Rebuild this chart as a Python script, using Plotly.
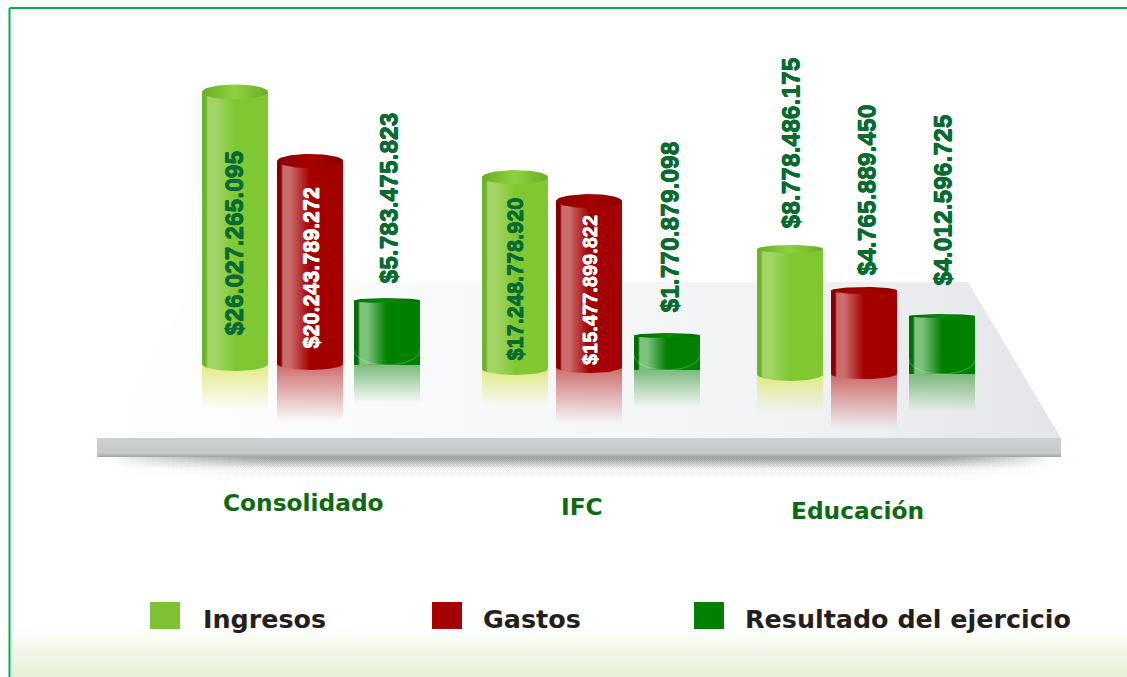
import numpy as np
import plotly.graph_objects as go

# ---------- data ----------
categories = ["Consolidado", "IFC", "Educación"]
series_names = ["Ingresos", "Gastos", "Resultado del ejercicio"]

ingresos_labels = ["$26.027.265.095", "$17.248.778.920", "$8.778.486.175"]
gastos_labels = ["$20.243.789.272", "$15.477.899.822", "$4.765.889.450"]
resultado_labels = ["$5.783.475.823", "$1.770.879.098", "$4.012.596.725"]

# drawn cylinder heights and floors (thousand millions)
ingresos_height = [25.66, 18.1, 11.8]
gastos_height = [19.15, 15.66, 7.88]
resultado_height = [6.08, 3.25, 5.47]
ingresos_floor = [0.38, -0.09, -0.57]
gastos_floor = [0.38, 0.09, -0.57]
resultado_floor = [0.28, -0.19, -0.57]

# ---------- styling ----------
W, H = 1127, 677
PX_X = 277.5     # pixels per category
PX_Y = 10.6      # pixels per unit
X0, Y0 = 311, 368
BAR_W = 66 / PX_X
BAR_CENTER_PX = [[235, 515, 790], [310, 589, 864], [387, 667, 942]]

STYLE = [
    dict(base="#7fc832", edge="#6cb32c", hi="#a3d566", cap=["#67ad26", "#8fd13f"], refl="223,232,120", refl_len=[39, 32, 32]),
    dict(base="#a50000", edge="#870000", hi="#cc6c6c", cap=["#8a0000", "#a50000"], refl="200,90,90", refl_len=[52, 50, 50]),
    dict(base="#008000", edge="#006f00", hi="#7cc27c", cap=["#006c00", "#0a8a0a"], refl="110,180,110", refl_len=[38, 37, 38]),
]
RY_TOP = [[7.5, 7, 4], [7, 7, 3.5], [2.5, 2.5, 2]]
RY_BOT = [[7, 6, 7], [6, 6, 5], [0, 0, 0]]
LIFT = [[26, 6, 143], [13, 0, 96], [79, 55, 86]]
XSHIFT = [[-1, 0, 1], [2, 1, 3], [2, 3, 1]]
LABEL_SIZE = [[24.6, 21.7, 24.6], [21.5, 20, 24.6], [24.6, 24.6, 24.6]]
LABEL_COLOR = [["#0a6b32"] * 3, ["#ffffff", "#ffffff", "#0a6b32"], ["#0a6b32"] * 3]

heights = [ingresos_height, gastos_height, resultado_height]
floors = [ingresos_floor, gastos_floor, resultado_floor]
labels = [ingresos_labels, gastos_labels, resultado_labels]

fig = go.Figure()


def decor(xs, ys, kind=None, stops=None, color=None):
    """Background furniture, in pixel coordinates on the lower axes."""
    t = dict(x=xs, y=ys, mode="lines", line=dict(width=0), fill="toself",
             hoverinfo="skip", showlegend=False)
    if stops:
        t["fillgradient"] = dict(type=kind, colorscale=stops)
    else:
        t["fillcolor"] = color
    fig.add_trace(go.Scatter(**t))


def thick(color):
    return "0.25px 0 0 {0}, -0.25px 0 0 {0}, 0 0.25px 0 {0}, 0 -0.25px 0 {0}".format(color)


# lower green band
decor([11, W, W, 11], [628, 628, H, H], "vertical",
      [[0, "#e6f0d6"], [0.55, "#f1f6e8"], [1, "#ffffff"]])
# platform shadow: layers that narrow so it fades out sideways
for k in range(24):
    decor([110 + k * 7, 1050 - k * 5, 1050 - k * 5, 110 + k * 7], [457, 457, 482, 482], "vertical",
          [[0, "rgba(120,120,120,0)"], [0.55, "rgba(120,120,120,0.004)"], [1, "rgba(110,110,110,0.045)"]])
# platform top and front
decor([197, 968, 1061, 97], [282, 282, 438, 438], "horizontal",
      [[0, "#ffffff"], [0.35, "#f8f9fa"], [0.7, "#f2f3f5"], [1, "#e4e5e9"]])
decor([97, 1061, 1061, 97], [438, 438, 457, 457], "vertical",
      [[0, "#9fa5a6"], [0.2, "#c4c9cb"], [1, "#ccd0d2"]])

xa = "x2"
ya = "y2"
th_front = np.linspace(np.pi, 0, 41)

for s, name in enumerate(series_names):
    st = STYLE[s]
    xs = [(px - X0) / PX_X for px in BAR_CENTER_PX[s]]
    fig.add_trace(go.Bar(x=xs, y=heights[s], base=floors[s], width=BAR_W, name=name,
                         marker=dict(color=st["base"], line=dict(width=0)),
                         xaxis=xa, yaxis=ya, hoverinfo="skip", showlegend=False))
    for g, xc in enumerate(xs):
        low, high = floors[s][g], floors[s][g] + heights[s][g]
        rt, rb = RY_TOP[s][g] / PX_Y, RY_BOT[s][g] / PX_Y
        rx = BAR_W / 2
        # reflection under the cylinder
        rl = st["refl_len"][g] / PX_Y
        fig.add_trace(go.Scatter(
            x=[xc - rx, xc + rx, xc + rx, xc - rx], y=[low, low, low - rl - rb, low - rl - rb],
            mode="lines", line=dict(width=0), fill="toself", xaxis=xa, yaxis=ya,
            fillgradient=dict(type="vertical", colorscale=[[0, "rgba(%s,0)" % st["refl"]],
                                                            [1, "rgba(%s,0.9)" % st["refl"]]]),
            hoverinfo="skip", showlegend=False))
        # body with its rounded foot and the shaded front
        bx = xc + rx * np.cos(th_front)
        by = low - rb * np.sin(th_front)
        body_x = np.r_[xc - rx, bx, xc + rx, xc - rx]
        body_y = np.r_[high, by, high, high]
        fig.add_trace(go.Scatter(
            x=body_x, y=body_y, mode="lines", line=dict(width=0), fill="toself", xaxis=xa, yaxis=ya,
            fillgradient=dict(type="horizontal", colorscale=[
                [0, st["edge"]], [0.06, st["edge"]], [0.09, st["hi"]], [0.2, st["hi"]],
                [0.5, st["base"]], [1, st["base"]]]),
            hoverinfo="skip", showlegend=False))
        # faint glass arc inside the flat-footed cylinders
        if RY_BOT[s][g] == 0:
            ra = min(15 / PX_Y, heights[s][g] * 0.5)
            fig.add_trace(go.Scatter(
                x=xc + rx * np.cos(th_front), y=low + ra - ra * np.sin(th_front), mode="lines",
                line=dict(width=1.2, color="rgba(255,255,255,0.22)"), xaxis=xa, yaxis=ya,
                hoverinfo="skip", showlegend=False))
        # top cap
        th = np.linspace(0, 2 * np.pi, 81)
        fig.add_trace(go.Scatter(
            x=xc + rx * np.cos(th), y=high + rt * np.sin(th), mode="lines", line=dict(width=0),
            fill="toself", xaxis=xa, yaxis=ya,
            fillgradient=dict(type="horizontal", colorscale=[[0, st["cap"][0]], [0.5, st["cap"][1]], [1, st["cap"][0]]]),
            hoverinfo="skip", showlegend=False))
        # value label
        fig.add_annotation(x=xc, y=low, xref=xa, yref=ya, text="<b>%s</b>" % labels[s][g],
                           textangle=-90, showarrow=False, xanchor="center", yanchor="bottom",
                           xshift=XSHIFT[s][g], yshift=LIFT[s][g],
                           font=dict(family="Liberation Sans", size=LABEL_SIZE[s][g],
                                     color=LABEL_COLOR[s][g], shadow=thick(LABEL_COLOR[s][g])))

# category labels
CAT_X = [303, 582, 857]
CAT_Y = [502, 506, 510]
for c, cx, cy in zip(categories, CAT_X, CAT_Y):
    fig.add_annotation(x=cx, y=cy, xref="x", yref="y", text="<b>%s</b>" % c, showarrow=False,
                       font=dict(family="DejaVu Sans", size=23.3, color="#0b6a12"))

# hand-drawn legend, spaced as in the picture
KEY_X = [150, 432, 694]
TXT_X = [201, 481, 743]
KEY_FILL = ["#7cc232", "#a50000", "#008000"]
for name, kx, tx, col in zip(series_names, KEY_X, TXT_X, KEY_FILL):
    fig.add_shape(type="rect", xref="x", yref="y", x0=kx, x1=kx + 30, y0=602, y1=629,
                  fillcolor=col, line=dict(width=0))
    fig.add_annotation(x=tx, y=619, xref="x", yref="y", text="<b>%s</b>" % name, showarrow=False,
                       xanchor="left", font=dict(family="DejaVu Sans", size=25.4, color="#231f20"))

# outer frame
fig.add_shape(type="line", xref="x", yref="y", x0=9.5, x1=9.5, y0=8, y1=H, line=dict(color="#00b050", width=2))
fig.add_shape(type="line", xref="x", yref="y", x0=9.5, x1=W, y0=8, y1=8, line=dict(color="#00b050", width=2))

hidden = dict(visible=False, showgrid=False, zeroline=False, fixedrange=True)
fig.update_layout(
    width=W, height=H, margin=dict(l=0, r=0, t=0, b=0),
    paper_bgcolor="white", plot_bgcolor="white", showlegend=False, barmode="overlay",
    xaxis=dict(range=[0, W], domain=[0, 1], **hidden),
    yaxis=dict(range=[H, 0], domain=[0, 1], **hidden),
    xaxis2=dict(range=[-X0 / PX_X, (W - X0) / PX_X], overlaying="x", anchor="y2", **hidden),
    yaxis2=dict(range=[(Y0 - H) / PX_Y, Y0 / PX_Y], overlaying="y", anchor="x2", **hidden),
)
fig.write_html("out.html", config=dict(displayModeBar=False),
               post_script="document.body.style.margin='0';document.body.style.overflow='hidden';")
